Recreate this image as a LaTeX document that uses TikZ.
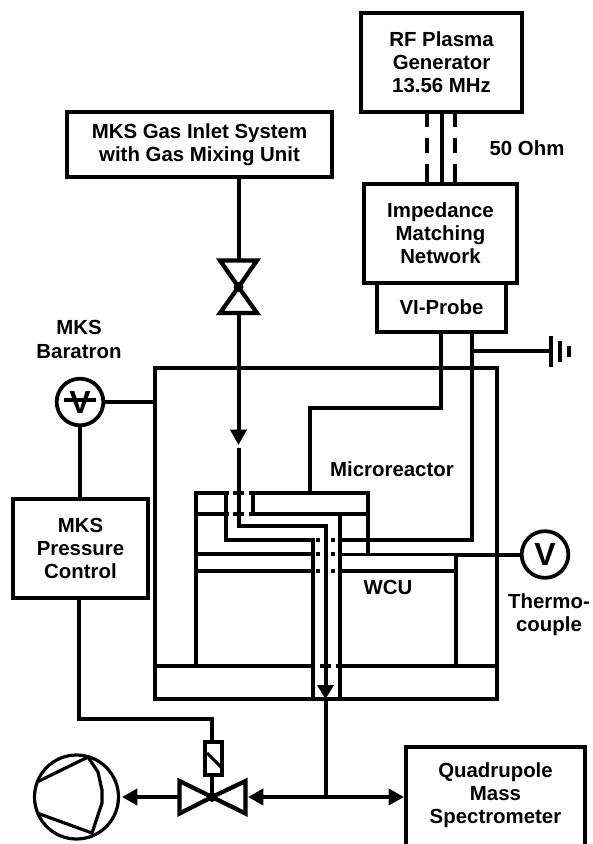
\documentclass[tikz,border=0pt]{standalone}
\usepackage{fontspec}
\setmainfont{Liberation Sans}
\usetikzlibrary{arrows.meta}
\tikzset{
  x=0.75pt,y=-0.75pt,
  lab/.style={font=\bfseries\fontsize{15.3}{17.3}\selectfont,align=center,inner sep=0pt,outer sep=0pt},
  boxn/.style={lab,draw,line width=3.1pt,rectangle,minimum width=#1},
  wall/.style={line width=2.6pt,line cap=butt,line join=miter},
  wire/.style={line width=3pt,line join=miter},
  thick wall/.style={line width=3.2pt,line join=miter},
  arrowtip/.style={-{Triangle[length=11.5pt,width=12pt]}},
  twotip/.style={{Triangle[length=11.5pt,width=12pt]}-{Triangle[length=11.5pt,width=12pt]}},
  meter/.style={circle,draw,line width=2.8pt,minimum size=35pt,inner sep=0pt,outer sep=0pt,font=\bfseries\fontsize{24}{24}\selectfont},
}
\begin{document}
\begin{tikzpicture}
\useasboundingbox (0,0) rectangle (593,844);
% boxes
\node[boxn=120.5pt,minimum height=74.5pt] (rf) at (441.5,62.5) {RF Plasma\\Generator\\13.56 MHz};
\node[boxn=198.75pt,minimum height=48.75pt] (gas) at (199.5,144.5) {MKS Gas Inlet System\\with Gas Mixing Unit};
\node[boxn=114.75pt,minimum height=74.25pt] (imp) at (440.5,233.5) {Impedance\\Matching\\Network};
\node[boxn=96.75pt,minimum height=36.75pt] (vi) at (441.5,307.5) {VI-Probe};
\node[boxn=101.25pt,minimum height=74.25pt] (pc) at (80.5,548.5) {MKS\\Pressure\\Control};
\node[lab] (qms) at (495.5,795) {Quadrupole\\Mass\\Spectrometer};
\node[lab] (lohm) at (527,148) {50 Ohm};
\node[lab] (lbar) at (79,339.5) {MKS\\Baratron};
\node[lab] (lmicro) at (392,469) {Microreactor};
\node[lab] (lwcu) at (388,587) {WCU};
\node[lab] (lth) at (549,615) {Thermo-\\couple};
\node[meter] (bar) at (80,402) {V};
\node[meter] (th) at (545,554.5) {V};
\node[circle,draw,line width=2.4pt,minimum size=63pt,inner sep=0pt,outer sep=0pt] (pump) at (76.5,797) {};
% outer chamber
\coordinate (chTL) at (155,368);
\coordinate (chBR) at (497,699);
\draw[thick wall] (chTL) rectangle (chBR);
% quadrupole box (runs off the page)
\coordinate (qL) at (406,797);
\draw[thick wall] (406,844) -- (406,747) -- (585,747) -- (585,844);
% RF line
\draw[wire] (rf.south) -- (imp.north -| rf.south);
\foreach \x in {427,455}{
  \draw[wire] (\x,114) -- (\x,127);
  \draw[wire] (\x,138) -- (\x,153);
  \draw[wire] (\x,164) -- (\x,182);
}
% VI-probe leads
\coordinate (leadA) at (441,408);
\coordinate (reactorTop) at (310,493);
\draw[wall] (vi.south -| leadA) -- (leadA) -- (310,408) -- (reactorTop);
\coordinate (leadB) at (472,540);
\draw[wire] (vi.south -| leadB) -- (leadB) -- (340,540);
% ground
\coordinate (g0) at (470,351);
\coordinate (g1) at (551,351);
\draw[wire] (g0) -- (g1);
\draw[wire] (551,336) -- (551,367);
\draw[wire] (560,341) -- (560,362);
\draw[wire] (569,346) -- (569,357);
% gas line and inlet valve
\coordinate (iv) at (238.5,287);
\draw[wire] (gas.south -| iv) -- (238.5,260);
\draw[thick wall] (iv) -- (220,260.5) -- (257,260.5) -- cycle;
\draw[thick wall] (iv) -- (220,313) -- (257,313) -- cycle;
\fill (iv) circle[radius=5];
\coordinate (gasTip) at (238.5,445);
\draw[wire,arrowtip] (238.5,313) -- (gasTip);
\draw[wire] (238.5,448) -- (238.5,526) -- (326,526) -- (326,690);
% baratron
\draw[wire] (bar.east) -- (bar.east -| chTL);
\draw[wire] (bar.south) -- (pc.north -| bar.south);
\draw[line width=2.8pt] (64,400) -- (96,400);
% pressure control to valve
\coordinate (vv) at (212,797);
\node[draw,line width=2.8pt,rectangle,minimum width=12.75pt,minimum height=24.75pt,inner sep=0pt,outer sep=0pt] (sol) at (213.5,758.5) {};
\draw[wire] (pc.south -| 79,0) -- (79,719) -- (212,719) -- (sol.north -| vv);
\draw[line width=2.2pt] (207,753) -- (221,767);
\draw[wire] (sol.south -| vv) -- (vv);
% main valve
\draw[thick wall] (vv) -- (179.5,781) -- (179.5,813.5) -- cycle;
\draw[thick wall] (vv) -- (245.5,781) -- (245.5,813.5) -- cycle;
\fill (vv) circle[radius=5];
% pump interior
\draw[line width=2.4pt,line join=round] (37,782) -- (88,757) -- (98,772) -- (102,790) -- (102,803) -- (92,833) -- (37,813);
% pipe arrows
\coordinate (pumpTip) at (122,797);
\coordinate (mid) at (325.5,797);
\coordinate (vR) at (248,797);
\draw[wire,arrowtip] (179.5,797) -- (pumpTip);
\draw[wire,twotip] (vR) -- (qL -| 404,0);
\draw[wire] (325.5,697) -- (mid);
\fill (317,685) -- (334,685) -- (325.5,699) -- cycle;
% reactor
\draw[wall] (196,666) -- (196,493) -- (229,493);
\draw[wall] (233,493) -- (244,493);
\draw[wall] (249,493) -- (368,493) -- (368,554);
\draw[wall] (253,493) -- (253,514);
\draw[wall] (196,514) -- (229,514);
\draw[wall] (233,514) -- (244,514);
\draw[wall] (249,514) -- (368,514);
\draw[wall] (226,493) -- (226,540) -- (313,540) -- (313,699);
\draw[wall] (340,514) -- (340,699);
\draw[wall] (196,554) -- (313,554);
\draw[thick wall] (196,571) -- (313,571);
\draw[wall] (340,554.5) -- (456,554.5) -- (456,666);
\draw[thick wall] (340,571) -- (456,571);
\draw[wire] (456,554.5) -- (th.west);
\draw[thick wall] (155,666) -- (196,666);
\draw[wall] (196,666) -- (315,666);
\draw[thick wall] (320,666) -- (331,666);
\draw[thick wall] (336,666) -- (497,666);
\foreach \y in {540,554,571}{
  \foreach \x in {318,333}{
    \fill (\x-2,\y-2) rectangle (\x+2,\y+2);
  }
}
\end{tikzpicture}
\end{document}
